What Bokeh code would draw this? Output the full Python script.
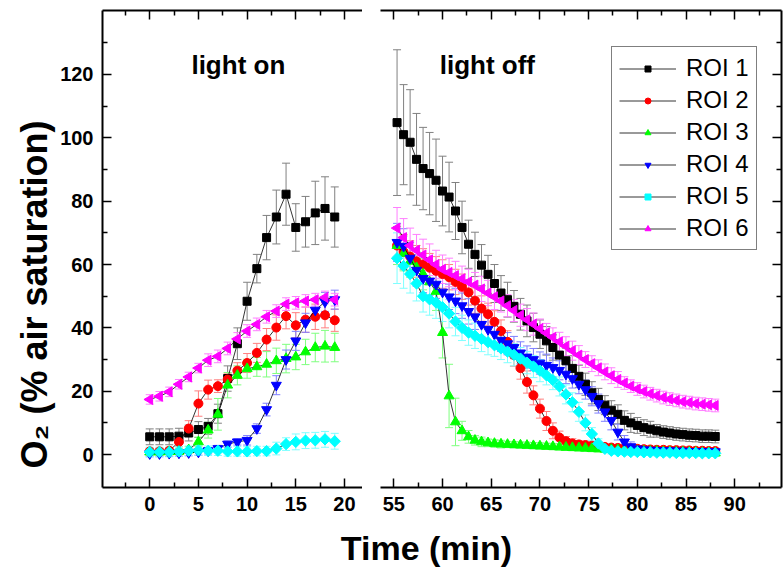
import math
from bokeh.plotting import figure
from bokeh.models import (Range1d, LinearAxis, FixedTicker, ColumnDataSource, Whisker,
                          TeeHead, Label, Legend, LegendItem, Title)
from bokeh.layouts import row, column
from bokeh.embed import file_html
from bokeh.resources import INLINE

# ---------------- data ----------------
t_on = [0, 1, 2, 3, 4, 5, 6, 7, 8, 9, 10, 11, 12, 13, 14, 15, 16, 17, 18, 19]
t_off = [55.33, 56.00, 56.67, 57.33, 58.00, 58.67, 59.33, 60.00, 60.67, 61.33,
         62.00, 62.67, 63.33, 64.00, 64.67, 65.33, 66.00, 66.67, 67.33, 68.00,
         68.67, 69.33, 70.00, 70.67, 71.33, 72.00, 72.67, 73.33, 74.00, 74.67,
         75.33, 76.00, 76.67, 77.33, 78.00, 78.67, 79.33, 80.00, 80.67, 81.33,
         82.00, 82.67, 83.33, 84.00, 84.67, 85.33, 86.00, 86.67, 87.33, 88.00]

roi_names = ["ROI 1", "ROI 2", "ROI 3", "ROI 4", "ROI 5", "ROI 6"]

roi1_on = [5.6, 5.6, 5.6, 5.8, 6.8, 7.9, 8.9, 12.9, 24.0, 35.0, 48.4, 58.7, 68.5, 75.0, 82.2, 71.7, 73.5, 76.3, 77.7, 75.0]
roi2_on = [1.0, 1.0, 1.2, 4.0, 8.2, 16.1, 20.5, 21.6, 23.7, 26.5, 28.9, 32.1, 36.3, 40.1, 43.7, 40.8, 42.6, 43.5, 44.0, 42.4]
roi3_on = [0.8, 0.8, 0.9, 1.0, 1.5, 4.0, 7.7, 12.7, 21.9, 25.0, 27.1, 27.7, 28.5, 29.6, 30.3, 30.8, 32.4, 33.8, 34.2, 33.8]
roi4_on = [0.3, 0.3, 0.4, 0.5, 0.6, 0.8, 1.2, 1.9, 3.3, 4.0, 4.5, 8.2, 14.2, 21.9, 30.0, 35.9, 41.6, 45.6, 48.2, 48.9]
roi5_on = [0.8, 0.8, 0.8, 1.0, 1.2, 1.3, 1.2, 1.2, 1.0, 1.0, 1.0, 1.1, 1.1, 1.9, 3.3, 4.0, 4.4, 4.5, 4.8, 4.2]
roi6_on = [17.4, 18.4, 19.8, 22.2, 24.5, 27.3, 29.8, 31.0, 33.5, 36.5, 39.0, 41.1, 43.5, 45.3, 47.5, 47.9, 48.5, 48.9, 49.6, 48.9]

roi1_on_err = [2.5, 2.5, 2.5, 2.5, 2.5, 2.5, 2.5, 3, 4, 5, 6, 4.5, 7, 8.5, 9.8, 7.5, 8, 10, 10, 9.5]
roi2_on_err = [1, 1, 1, 1.5, 2.5, 4, 3, 2, 2, 2.5, 3, 3, 3.5, 4, 4, 4, 4, 4, 4, 3.5]
roi3_on_err = [1, 1, 1, 1, 1, 1.5, 2.5, 5, 4, 3, 3, 3, 4, 4, 4.5, 4, 4, 4.5, 5, 4.5]
roi4_on_err = [1, 1, 1, 1, 1, 1, 1, 1, 1, 1, 1.5, 1.5, 2, 3, 3, 3, 3, 3, 3, 3]
roi5_on_err = [1.5, 1.5, 1.5, 1.5, 1.5, 1.5, 1.5, 1.5, 1.5, 1.5, 1.5, 1.5, 1.5, 2, 2, 2.5, 2.5, 2.5, 2.5, 2.5]
roi6_on_err = [1.5, 1.5, 1.5, 1.5, 1.5, 1.5, 2, 2, 2, 2, 2, 2, 2, 2, 2, 2, 2, 2, 2, 2]

roi1_off = [104.8, 101.0, 98.6, 93.2, 90.3, 88.7, 86.6, 83.2, 81.3, 76.9,
            71.7, 66.4, 63.2, 59.8, 56.9, 54.0, 51.0, 48.9, 46.8, 44.3,
            42.2, 40.1, 38.0, 35.9, 33.8, 31.4, 29.6, 27.2, 24.7, 22.2,
            19.5, 17.4, 15.6, 14.0, 12.7, 10.8, 10.0, 9.2, 8.5, 8.0,
            7.5, 7.1, 6.8, 6.5, 6.3, 6.1, 6.0, 5.8, 5.8, 5.7]
roi2_off = [66.0, 64.0, 62.5, 61.0, 60.0, 59.0, 58.0, 57.0, 56.0, 54.5,
            53.0, 51.2, 48.6, 46.1, 44.3, 41.9, 39.0, 35.6, 31.4, 27.3,
            22.9, 18.7, 14.5, 10.6, 7.5, 5.4, 4.2, 3.5, 3.2, 3.0,
            2.8, 2.6, 2.4, 2.2, 2.1, 2.0, 1.9, 1.8, 1.7, 1.6,
            1.5, 1.5, 1.4, 1.4, 1.3, 1.3, 1.2, 1.2, 1.1, 1.1]
roi3_off = [66.0, 63.5, 61.0, 59.0, 57.0, 54.5, 51.5, 38.5, 18.5, 10.3,
            7.5, 5.6, 4.5, 4.0, 3.7, 3.5, 3.3, 3.2, 3.1, 3.0,
            2.9, 2.8, 2.7, 2.6, 2.5, 2.4, 2.3, 2.2, 2.1, 2.0,
            1.9, 1.8, 1.7, 1.6, 1.5, 1.4, 1.3, 1.2, 1.1, 1.0,
            1.0, 0.9, 0.9, 0.8, 0.8, 0.7, 0.7, 0.6, 0.6, 0.5]
roi4_off = [67.0, 65.8, 62.0, 58.2, 55.6, 54.8, 53.8, 51.3, 49.8, 48.5,
            47.0, 45.2, 43.5, 41.1, 39.5, 38.0, 36.1, 35.0, 33.8, 32.1,
            30.8, 30.0, 28.9, 28.2, 27.5, 26.6, 25.4, 24.0, 22.2, 20.5,
            18.4, 16.1, 13.5, 10.8, 7.1, 4.0, 2.5, 1.8, 1.5, 1.4,
            1.3, 1.2, 1.2, 1.1, 1.1, 1.0, 1.0, 1.0, 0.9, 0.9]
roi5_off = [62.0, 59.5, 57.0, 54.0, 50.0, 49.0, 48.0, 46.5, 44.5, 42.0,
            40.0, 38.5, 37.5, 36.5, 35.5, 34.5, 33.5, 32.5, 31.5, 30.3,
            29.0, 27.8, 26.5, 25.0, 23.5, 21.5, 19.0, 16.5, 13.5, 10.0,
            6.5, 3.5, 1.8, 1.2, 1.0, 0.9, 0.8, 0.8, 0.7, 0.7,
            0.6, 0.6, 0.6, 0.5, 0.5, 0.5, 0.5, 0.4, 0.4, 0.4]
roi6_off = [71.5, 68.5, 66.0, 64.5, 63.0, 61.5, 60.0, 58.5, 57.5, 56.5,
            55.5, 54.5, 53.5, 52.3, 51.0, 49.8, 48.5, 47.0, 45.5, 44.0,
            42.6, 41.2, 39.8, 38.4, 37.0, 35.6, 34.2, 32.8, 31.4, 30.0,
            28.7, 27.4, 26.1, 24.9, 23.7, 22.6, 21.6, 20.7, 19.9, 19.2,
            18.6, 18.0, 17.5, 17.1, 16.7, 16.4, 16.1, 15.9, 15.7, 15.5]

roi1_off_err = [23, 15.8, 16.6, 14.5, 13, 13, 13, 11, 11, 9,
                8.3, 7.6, 7, 6.5, 6, 6, 5.5, 5.5, 5, 5,
                5, 4.5, 4.5, 4.5, 4, 4, 4, 4, 3.5, 3.5,
                3.5, 3.5, 3, 3, 3, 3, 3, 2.5, 2.5, 2.5,
                2, 2, 2, 2, 2, 2, 2, 2, 2, 2]
roi2_off_err = [6, 5.5, 5, 5, 5, 4.5, 4.5, 4.5, 4, 4,
                4, 4, 4, 4, 3.5, 3.5, 3.5, 3.5, 3.5, 3.5,
                3.5, 3, 3, 3, 2.5, 2, 1.5, 1.5, 1.2, 1.2,
                1, 1, 1, 1, 1, 1, 1, 1, 1, 1,
                1, 1, 1, 1, 1, 1, 1, 1, 1, 1]
roi3_off_err = [6, 5.5, 5, 5, 5, 5, 6, 8, 10, 7.5,
                3, 2, 1.5, 1.5, 1.2, 1.2, 1.2, 1, 1, 1,
                1, 1, 1, 1, 1, 1, 1, 1, 1, 1,
                1, 1, 1, 1, 1, 1, 1, 1, 1, 1,
                1, 1, 1, 1, 1, 1, 1, 1, 1, 1]
roi4_off_err = [6, 5.5, 5, 5, 4.5, 4.5, 4.5, 4.5, 4, 4,
                4, 4, 4, 4, 4, 3.5, 3.5, 3.5, 3.5, 3.5,
                3.5, 3.5, 3.5, 3.5, 3, 3, 3, 3, 3, 3,
                3, 3, 3, 3, 2.5, 2, 1.5, 1, 1, 1,
                1, 1, 1, 1, 1, 1, 1, 1, 1, 1]
roi5_off_err = [8, 7, 6, 5.5, 5, 5, 5, 4.5, 4.5, 4.5,
                4, 4, 4, 4, 4, 3.5, 3.5, 3.5, 3.5, 3.5,
                3.5, 3.5, 3.5, 3, 3, 3, 3, 3, 3, 2.5,
                2, 1.5, 1, 1, 1, 1, 1, 1, 1, 1,
                1, 1, 1, 1, 1, 1, 1, 1, 1, 1]
roi6_off_err = [6.5, 6, 5.5, 5, 5, 5, 4.5, 4.5, 4.5, 4.5,
                4, 4, 4, 4, 4, 4, 3.5, 3.5, 3.5, 3.5,
                3.5, 3.5, 3, 3, 3, 3, 3, 3, 3, 2.5,
                2.5, 2.5, 2.5, 2.5, 2.5, 2, 2, 2, 2, 2,
                2, 2, 2, 2, 2, 2, 2, 2, 2, 2]

y_major = [0, 20, 40, 60, 80, 100, 120]
y_minor = [10, 30, 50, 70, 90, 110, 130]
x_on_major = [0, 5, 10, 15, 20]
x_on_minor = [-2.5, 2.5, 7.5, 12.5, 17.5]
x_off_major = [55, 60, 65, 70, 75, 80, 85, 90]
x_off_minor = [57.5, 62.5, 67.5, 72.5, 77.5, 82.5, 87.5, 92.5]

markers = ["square", "circle", "triangle", "inverted_triangle", "square", "triangle"]
angles = [0, 0, 0, 0, math.pi / 4, math.pi / 2]
sizes = [8, 9, 10, 10, 8, 10]
colors = ["#000000", "#ff0000", "#00ff00", "#0000ff", "#00ffff", "#ff00ff"]
err_colors = ["#808080", "#ff7f7f", "#7fff7f", "#7f7fff", "#7fffff", "#ff7fff"]

on_vals = [roi1_on, roi2_on, roi3_on, roi4_on, roi5_on, roi6_on]
on_errs = [roi1_on_err, roi2_on_err, roi3_on_err, roi4_on_err, roi5_on_err, roi6_on_err]
off_vals = [roi1_off, roi2_off, roi3_off, roi4_off, roi5_off, roi6_off]
off_errs = [roi1_off_err, roi2_off_err, roi3_off_err, roi4_off_err, roi5_off_err, roi6_off_err]

FONT = "Liberation Sans"


def style_axis(ax, labels=True):
    ax.axis_line_width = 2
    ax.axis_line_color = "black"
    ax.major_tick_in = 9
    ax.major_tick_out = 0
    ax.minor_tick_in = 5
    ax.minor_tick_out = 0
    ax.major_tick_line_width = 1.5
    ax.minor_tick_line_width = 1.5
    ax.major_tick_line_color = "black"
    ax.minor_tick_line_color = "black"
    ax.major_label_text_font = FONT
    ax.major_label_text_font_style = "bold"
    ax.major_label_text_font_size = "20px"
    ax.major_label_text_color = "black"
    ax.major_label_standoff = 9
    if not labels:
        ax.major_label_overrides = {t: "" for t in ax.ticker.ticks}
        ax.major_label_text_font_size = "0px"
        ax.major_label_standoff = 0


def add_axis(p, ticks, minor, place, labels=True):
    ax = LinearAxis(ticker=FixedTicker(ticks=ticks, minor_ticks=minor))
    style_axis(ax, labels)
    p.add_layout(ax, place)
    return ax


def draw_series(p, t, vals, errs, i):
    src = ColumnDataSource(dict(t=t, v=vals,
                                lo=[a - b for a, b in zip(vals, errs)],
                                hi=[a + b for a, b in zip(vals, errs)]))
    ec = err_colors[i]
    w = Whisker(base="t", lower="lo", upper="hi", source=src, line_color=ec, line_width=1,
                upper_head=TeeHead(size=8, line_color=ec, line_width=1),
                lower_head=TeeHead(size=8, line_color=ec, line_width=1),
                level="underlay")
    p.add_layout(w)
    ln = p.line("t", "v", source=src, line_color="black", line_width=0.8)
    sc = p.scatter("t", "v", source=src, marker=markers[i], size=sizes[i], angle=angles[i],
                   fill_color=colors[i], line_color=colors[i])
    return ln, sc


y_rng = Range1d(-10.4, 140.2)

p1 = figure(frame_width=260, frame_height=477, x_range=Range1d(-4.85, 21.85), y_range=y_rng,
            x_axis_type=None, y_axis_type=None, toolbar_location=None, output_backend="svg",
            min_border_left=102, min_border_right=0, min_border_top=10, min_border_bottom=33)
p1.outline_line_color = None
add_axis(p1, y_major, y_minor, "left")
add_axis(p1, x_on_major, x_on_minor, "below")
add_axis(p1, x_on_major, x_on_minor, "above", labels=False)
p1.add_layout(Title(text="O\u2082 (% air saturation)", align="left", offset=19, standoff=6,
                    text_font=FONT, text_font_style="bold", text_font_size="36px",
                    text_color="black"), "left")

p2 = figure(frame_width=401, frame_height=477, x_range=Range1d(53.63, 94.8), y_range=y_rng,
            x_axis_type=None, y_axis_type=None, toolbar_location=None, output_backend="svg",
            min_border_left=18, min_border_right=2, min_border_top=10, min_border_bottom=33)
p2.outline_line_color = None
add_axis(p2, x_off_major, x_off_minor, "below")
add_axis(p2, x_off_major, x_off_minor, "above", labels=False)
add_axis(p2, y_major, y_minor, "right", labels=False)

items = []
for i in range(6):
    draw_series(p1, t_on, on_vals[i], on_errs[i], i)
    ln, sc = draw_series(p2, t_off, off_vals[i], off_errs[i], i)
    items.append(LegendItem(label=roi_names[i], renderers=[ln, sc]))

legend = Legend(items=items, location=(231, 237), label_text_font=FONT,
                label_text_font_size="24px", label_text_color="black",
                glyph_width=57, glyph_height=15,
                label_height=15, label_standoff=10, spacing=4, padding=7,
                border_line_color="black", border_line_width=1, margin=0,
                background_fill_color="white", background_fill_alpha=1)
p2.add_layout(legend)

p1.add_layout(Label(x=9.1, y=123, text="light on", text_align="center",
                    text_baseline="alphabetic", text_font=FONT, text_color="black",
                    text_font_style="bold", text_font_size="26px"))
p2.add_layout(Label(x=64.6, y=123, text="light off", text_align="center",
                    text_baseline="alphabetic", text_font=FONT, text_color="black",
                    text_font_style="bold", text_font_size="26px"))

p3 = figure(width=783, height=48, x_range=Range1d(0, 1), y_range=Range1d(0, 1),
            x_axis_type=None, y_axis_type=None, toolbar_location=None, output_backend="svg",
            min_border=0)
p3.outline_line_color = None
p3.add_layout(Label(x=426, y=21, x_units="screen", y_units="screen", text="Time (min)",
                    text_align="center", text_baseline="middle", text_font=FONT,
                    text_color="black", text_font_style="bold", text_font_size="34px"))

layout = column(row(p1, p2), p3)
open("out.html", "w").write(file_html(layout, INLINE))
